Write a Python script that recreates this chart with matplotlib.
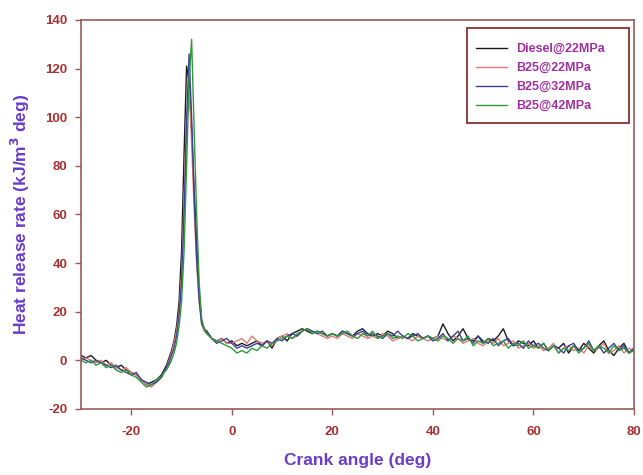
import matplotlib
matplotlib.use("Agg")
import matplotlib.pyplot as plt
from matplotlib.patches import Rectangle

plt.rcParams['font.family'] = ['Liberation Sans', 'DejaVu Sans']
plt.rcParams['axes.unicode_minus'] = False

# crank angle (deg): 1 deg steps, 0.5 deg steps around the premixed peak
angles_pre = list(range(-30, -14))
angles_peak = [a / 2 for a in range(-29, -9)]
angles_post = list(range(-4, 81))
crank_angle = angles_pre + angles_peak + angles_post

diesel_22 = ([2, 1, 2, 0, -1, 0, -2, -3, -2, -4, -5, -6, -8, -10, -9, -8]
             + [-7, -6, -4, -2, 1, 4, 8, 14, 24, 45, 85, 121, 115, 95, 70, 48, 28, 16, 13, 12]
             + [9, 8, 9, 7, 8,
                6, 7, 6, 7, 8,
                6, 8, 5, 9, 10, 8, 11, 12, 13, 12, 11, 12, 11, 10, 11,
                10, 12, 11, 10, 12, 13, 11, 10, 11, 10, 12, 11, 9, 10, 9, 11, 10, 9, 10, 9,
                10, 15, 11, 8, 10, 13, 9, 8, 10, 7, 9, 8, 10, 13, 8, 6, 8, 7, 6, 8,
                5, 7, 4, 6, 5, 7, 3, 6, 4, 7, 5, 3, 6, 8, 4, 2, 5, 7, 3, 5])

b25_22 = ([0, 1, 0, -1, 0, -2, -1, -3, -4, -3, -5, -6, -8, -10, -11, -9]
          + [-8, -7, -5, -3, 0, 3, 7, 12, 20, 35, 65, 100, 112, 90, 62, 40, 24, 15, 12, 11]
          + [9, 8, 9, 7, 7,
             8, 9, 7, 10, 8,
             7, 8, 6, 9, 10, 11, 9, 10, 12, 13, 12, 11, 10, 9, 10,
             9, 11, 10, 9, 11, 10, 9, 10, 9, 11, 10, 8, 9, 10, 9, 8, 10, 9, 8, 9,
             10, 9, 8, 10, 9, 7, 8, 9, 7, 6, 8, 7, 9, 6, 7, 8, 5, 6, 7, 5,
             6, 4, 5, 7, 3, 5, 6, 4, 5, 3, 6, 4, 5, 7, 3, 4, 6, 3, 5, 4])

b25_32 = ([1, 0, -1, 0, -1, -2, -3, -2, -4, -5, -6, -5, -8, -9, -10, -9]
          + [-8, -7, -5, -3, -1, 2, 5, 10, 18, 32, 60, 98, 126, 100, 68, 42, 25, 15, 13, 12]
          + [9, 7, 8, 9, 7,
             5, 6, 5, 6, 7,
             6, 8, 7, 9, 8, 10, 11, 10, 12, 13, 12, 11, 12, 10, 11,
             10, 12, 11, 10, 11, 12, 10, 11, 10, 9, 11, 10, 12, 10, 9, 10, 11, 9, 10, 8,
             9, 11, 8, 10, 12, 8, 9, 7, 10, 8, 7, 9, 6, 8, 9, 6, 7, 5, 8, 6,
             7, 5, 4, 6, 5, 3, 6, 7, 4, 5, 8, 4, 6, 3, 5, 7, 4, 6, 3, 5])

b25_42 = ([0, -1, 0, -2, -1, -3, -2, -4, -5, -4, -6, -7, -9, -11, -10, -8]
          + [-7, -7, -5, -4, -2, 0, 3, 7, 14, 24, 45, 80, 115, 132, 95, 60, 32, 17, 13, 11]
          + [9, 8, 7, 6, 5,
             3, 4, 3, 5, 4,
             6, 5, 7, 8, 9, 10, 9, 11, 12, 13, 11, 12, 11, 10, 11,
             10, 11, 12, 10, 9, 11, 10, 12, 9, 10, 11, 9, 10, 9, 11, 10, 8, 9, 10, 9,
             8, 10, 9, 7, 9, 8, 10, 6, 8, 7, 9, 6, 7, 8, 5, 7, 6, 8, 5, 6,
             5, 7, 4, 6, 3, 5, 4, 6, 3, 5, 7, 4, 6, 5, 3, 6, 4, 5, 3, 4])

series_labels = ['Diesel@22MPa', 'B25@22MPa', 'B25@32MPa', 'B25@42MPa']
series_colors = ['#1c1c1c', '#e07a7a', '#3b3f9a', '#2e9a3a']
x_ticks = [-20, 0, 20, 40, 60, 80]
y_ticks = [-20, 0, 20, 40, 60, 80, 100, 120, 140]

spine_col = '#9a5a5a'
tick_col = '#a83232'
label_col = '#6a3cc8'
legend_txt = '#a030a0'

fig = plt.figure(figsize=(6.43, 4.75), dpi=100)
ax = fig.add_axes([0.126, 0.139, 0.860, 0.819])

for ys, lab, col in zip([diesel_22, b25_22, b25_32, b25_42], series_labels, series_colors):
    ax.plot(crank_angle, ys, color=col, lw=1.0, label=lab)

ax.set_xlim(-30, 80)
ax.set_ylim(-20, 140)
ax.set_xticks(x_ticks)
ax.set_yticks(y_ticks)
for s in ax.spines.values():
    s.set_color(spine_col)
    s.set_linewidth(1.2)
ax.tick_params(direction='out', length=4, width=1, color=spine_col,
               labelcolor=tick_col, labelsize=9.5)
ax.tick_params(axis='x', pad=8)
ax.tick_params(axis='y', pad=6)
for t in ax.get_xticklabels() + ax.get_yticklabels():
    t.set_fontweight('bold')

ax.set_xlabel('Crank angle (deg)', color=label_col, fontsize=12.5, fontweight='bold', labelpad=11)
ax.set_ylabel('Heat release rate (kJ/m$^{\\mathbf{3}}$ deg)', color=label_col, fontsize=12.5,
              fontweight='bold', labelpad=9)

leg = ax.legend(loc='upper left', bbox_to_anchor=(0.714, 0.94), frameon=False,
                handlelength=2.5, handletextpad=0.7, borderpad=0, borderaxespad=0,
                labelspacing=0.55, prop={'weight': 'bold', 'size': 9})
for t in leg.get_texts():
    t.set_color(legend_txt)
ax.add_patch(Rectangle((0.698, 0.735), 0.293, 0.244, transform=ax.transAxes,
                       fill=False, edgecolor='#8a3030', lw=1.3, zorder=5))

fig.savefig('out.png', dpi=100)
